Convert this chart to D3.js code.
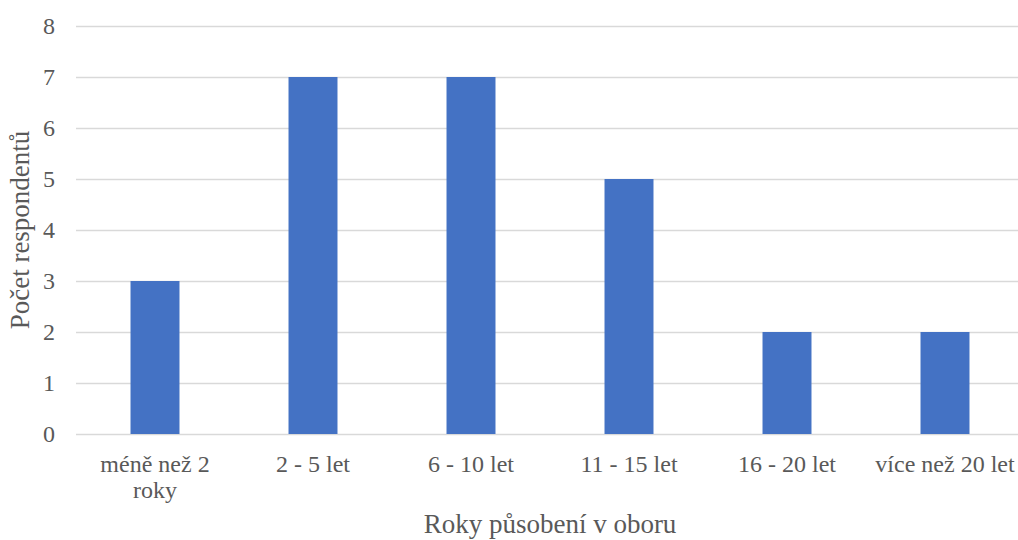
<!DOCTYPE html>
<html>
<head>
<meta charset="utf-8">
<script src="https://cdn.jsdelivr.net/npm/d3@7"></script>
<style>
  body { margin: 0; background: #fff; }
  svg { display: block; }
</style>
</head>
<body>
<div id="wrapper"></div>
<script>
// data
const categories = ["méně než 2|roky", "2 - 5 let", "6 - 10 let", "11 - 15 let", "16 - 20 let", "více než 20 let"];
const values = [3, 7, 7, 5, 2, 2];
const yTicks = [0, 1, 2, 3, 4, 5, 6, 7, 8];

const width = 1018, height = 540;
const margin = { top: 26, left: 76, bottom: 106 };
const plotRight = 1024;
const fontFam = "'Liberation Serif', 'Times New Roman', Tinos, 'DejaVu Serif', serif";

const svg = d3.select("#wrapper").append("svg")
  .attr("width", width)
  .attr("height", height)
  .attr("font-family", fontFam)
  .style("font-family", fontFam);

const xScale = d3.scaleBand()
  .domain(categories)
  .range([margin.left, plotRight])
  .padding(0);

const yScale = d3.scaleLinear()
  .domain([0, 8])
  .range([height - margin.bottom, margin.top]);

// gridlines
svg.append("g")
  .selectAll("line")
  .data(yTicks)
  .join("line")
    .attr("x1", margin.left)
    .attr("x2", width)
    .attr("y1", d => Math.round(yScale(d)) + 0.5)
    .attr("y2", d => Math.round(yScale(d)) + 0.5)
    .attr("stroke", "#d9d9d9")
    .attr("stroke-width", 1.5);

// bars
const barW = xScale.bandwidth() * 0.31;
svg.append("g")
  .selectAll("rect")
  .data(values)
  .join("rect")
    .attr("x", (d, i) => xScale(categories[i]) + xScale.bandwidth() / 2 - barW / 2)
    .attr("y", d => yScale(d))
    .attr("width", barW)
    .attr("height", d => yScale(0) - yScale(d))
    .attr("fill", "#4472c4");

// y tick labels
svg.append("g")
  .selectAll("text")
  .data(yTicks)
  .join("text")
    .attr("x", 55)
    .attr("y", d => yScale(d))
    .attr("dy", "0.33em")
    .attr("text-anchor", "end")
    .attr("fill", "#595959")
    .style("font-size", "24px")
    .text(d => d);

// x tick labels (with line breaks)
const xLabels = svg.append("g")
  .selectAll("text")
  .data(categories)
  .join("text")
    .attr("x", d => xScale(d) + xScale.bandwidth() / 2)
    .attr("y", 472)
    .attr("text-anchor", "middle")
    .attr("fill", "#595959")
    .style("font-size", "24px");
xLabels.each(function(d) {
  const lines = d.split("|");
  d3.select(this).selectAll("tspan")
    .data(lines)
    .join("tspan")
      .attr("x", d3.select(this).attr("x"))
      .attr("dy", (l, i) => i === 0 ? 0 : 26)
      .text(l => l);
});

// axis titles
svg.append("text")
  .attr("x", 550)
  .attr("y", 533)
  .attr("text-anchor", "middle")
  .attr("fill", "#595959")
  .style("font-size", "27px")
  .text("Roky působení v oboru");

svg.append("text")
  .attr("transform", `translate(29, ${yScale(4)}) rotate(-90)`)
  .attr("text-anchor", "middle")
  .attr("fill", "#595959")
  .style("font-size", "27px")
  .text("Počet respondentů");
</script>
</body>
</html>
